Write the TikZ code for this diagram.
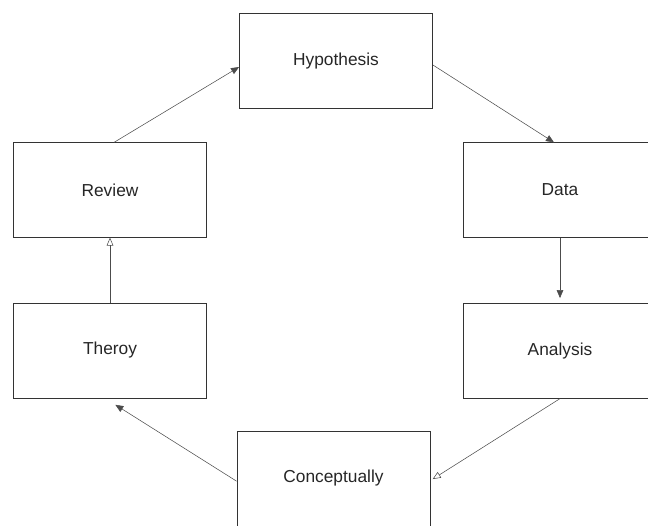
\documentclass[tikz,border=0pt]{standalone}
\usepackage{fontspec}
\setmainfont{Liberation Sans}
\usetikzlibrary{positioning, arrows.meta}

\begin{document}
\begin{tikzpicture}[x=0.75pt, y=-0.75pt]
    \tikzstyle{stage}=[draw=black!80, rectangle, minimum width=145pt, minimum height=71pt, inner sep=0pt, font=\fontsize{13}{15}\selectfont, text=black!85];
    \tikzstyle{solidtip}=[-{Triangle[length=6pt, width=5pt]}, draw=black!70];
    \tikzstyle{opentip}=[-{Triangle[open, length=6pt, width=5pt]}, draw=black!70];
    \useasboundingbox (0,0) rectangle (648,525);
    \node[stage] (hypothesis) at (336,61) {Hypothesis};
    \node[stage] (review) at (110,190) {Review};
    \node[stage] (data) at (560,190) {Data};
    \node[stage] (theroy) at (110,350.5) {Theroy};
    \node[stage] (analysis) at (560,351) {Analysis};
    \node[stage] (concept) at (333.5,478.5) {Conceptually};

    \path
    ([xshift=3pt]review.north) edge[solidtip] ([yshift=-4.5pt]hypothesis.west)
    ([yshift=-3pt]hypothesis.east) edge[solidtip] ([xshift=-4.5pt]data.north)
    (data.south) edge[solidtip, shorten >=4pt] (analysis.north)
    (analysis.south) edge[opentip, shorten >=2pt] ([yshift=-1.5pt]concept.east)
    ([yshift=-2pt]concept.west) edge[solidtip] ([xshift=4pt, yshift=-5pt]theroy.south)
    (theroy.north) edge[opentip] (review.south);
\end{tikzpicture}
\end{document}
